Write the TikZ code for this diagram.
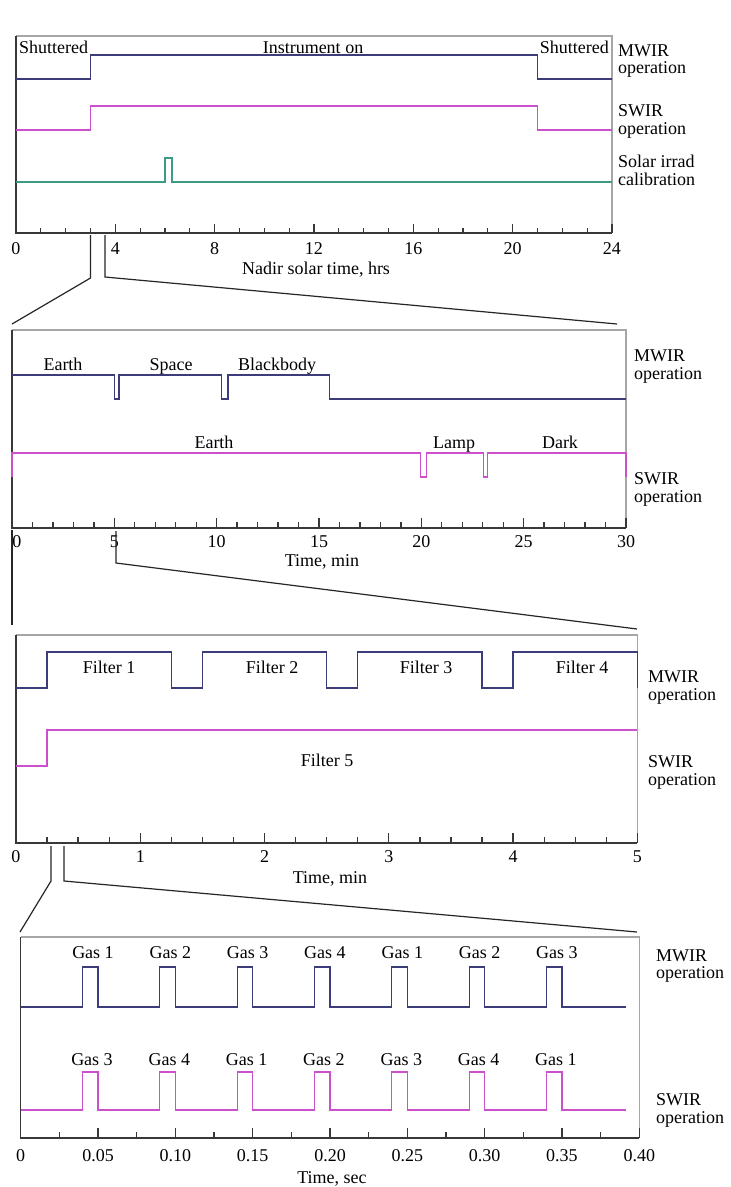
\documentclass[tikz,border=0pt]{standalone}
\usepackage{fontspec}
\setmainfont{Liberation Serif}
\definecolor{mwcol}{HTML}{3C3C7A}
\definecolor{swcol}{HTML}{CC4FCC}
\definecolor{solcol}{HTML}{3F9A85}
\definecolor{framegray}{HTML}{A6A6A6}
\definecolor{axcol}{HTML}{383838}
\tikzset{
  lab/.style={font=\fontsize{18}{18}\selectfont, inner sep=0pt, anchor=base},
  rlab/.style={lab, anchor=base west},
  mw/.style={draw=mwcol, line width=1.2pt},
  sw/.style={draw=swcol, line width=1.2pt},
  sol/.style={draw=solcol, line width=1.2pt},
  topframe/.style={draw=framegray, line width=1.3pt},
  axisline/.style={draw=axcol, line width=1.3pt},
  zoomline/.style={draw=black!85, line width=1.2pt}
}
\begin{document}
\begin{tikzpicture}[x=1pt,y=-1pt]
\useasboundingbox (0,0) rectangle (731,1187);
\fill[white] (0,0) rectangle (731,1187);

% ================= Panel 1 =================
\draw[topframe] (16,36) -- (612,36) -- (612,233);
\draw[axisline] (16,36) -- (16,233) -- (612,233);
\foreach \k in {1,...,23} \draw[axisline] ({16+24.833*\k},233) -- ++(0,-5);
\foreach \k in {4,8,...,24} \draw[axisline] ({16+24.833*\k},233) -- ++(0,-9);
\foreach \k in {0,4,...,24} \node[lab] (ta\k) at ({16+24.833*\k},254) {\k};
\node[lab] (xa) at (316,274) {Nadir solar time, hrs};

\draw[mw] (16,79) -- (90.5,79) -- (90.5,55) -- (537.5,55) -- (537.5,79) -- (612,79);
\draw[sw] (16,130) -- (90.5,130) -- (90.5,106) -- (537.5,106) -- (537.5,130) -- (612,130);
\draw[sol] (16,182) -- (165,182) -- (165,158) -- (172,158) -- (172,182) -- (612,182);

\node[lab, anchor=base west] (sh1) at (19,53) {Shuttered};
\node[lab] (ion) at (313,53) {Instrument on};
\node[lab, anchor=base east] (sh2) at (609,53) {Shuttered};
\node[rlab] (a1) at (618,56) {MWIR};
\node[rlab] (a2) at (618,73) {operation};
\node[rlab] (a3) at (618,116) {SWIR};
\node[rlab] (a4) at (618,134) {operation};
\node[rlab] (a5) at (618,167) {Solar irrad};
\node[rlab] (a6) at (618,185) {calibration};

% zoom lines 1 -> 2
\coordinate (z1a) at (90.5,235);
\coordinate (z1b) at (90.5,278);
\coordinate (z1c) at (12,324);
\coordinate (z1d) at (105,235);
\coordinate (z1e) at (105,277);
\coordinate (z1f) at (617,324);
\draw[zoomline] (z1a) -- (z1b) -- (z1c);
\draw[zoomline] (z1d) -- (z1e) -- (z1f);

% ================= Panel 2 =================
\draw[topframe] (12,330) -- (626,330) -- (626,528);
\draw[axisline] (12,330) -- (12,528) -- (626,528);
\foreach \k in {1,...,29} \draw[axisline] ({12+20.467*\k},528) -- ++(0,-6);
\foreach \k in {5,10,...,30} \draw[axisline] ({12+20.467*\k},528) -- ++(0,-10);
\node[lab] (tb0) at (17,547) {0};
\foreach \k in {5,10,...,30} \node[lab] (tb\k) at ({12+20.467*\k},547) {\k};
\node[lab] (xb) at (322,566) {Time, min};

\draw[mw] (12,375) -- (114.3,375) -- (114.3,399) -- (119,399) -- (119,375)
  -- (221.7,375) -- (221.7,399) -- (228,399) -- (228,375)
  -- (329.3,375) -- (329.3,399) -- (626,399);
\draw[sw] (12,477) -- (12,453) -- (420.7,453) -- (420.7,477) -- (426.7,477) -- (426.7,453)
  -- (483.3,453) -- (483.3,477) -- (487.7,477) -- (487.7,453) -- (626,453) -- (626,477);

\node[lab] (e1) at (63,370) {Earth};
\node[lab] (sp) at (171,370) {Space};
\node[lab] (bb) at (277,370) {Blackbody};
\node[lab] (e2) at (214,448) {Earth};
\node[lab] (lp) at (454,448) {Lamp};
\node[lab] (dk) at (560,448) {Dark};
\node[rlab] (b1) at (634,361) {MWIR};
\node[rlab] (b2) at (634,379) {operation};
\node[rlab] (b3) at (634,484) {SWIR};
\node[rlab] (b4) at (634,502) {operation};

% zoom lines 2 -> 3
\coordinate (z2a) at (12,530);
\coordinate (z2b) at (12,625);
\coordinate (z2c) at (116,531);
\coordinate (z2d) at (116,563);
\coordinate (z2e) at (637,629);
\draw[zoomline] (z2a) -- (z2b);
\draw[zoomline] (z2c) -- (z2d) -- (z2e);

% ================= Panel 3 =================
\draw[topframe] (16,635) -- (637.3,635) -- (637.3,843);
\draw[axisline] (16,635) -- (16,843) -- (637.3,843);
\foreach \k in {1,...,19} \draw[axisline] ({16+31.068*\k},843) -- ++(0,-6);
\foreach \k in {4,8,...,20} \draw[axisline] ({16+31.068*\k},843) -- ++(0,-10);
\foreach \k in {0,...,5} \node[lab] (tc\k) at ({16+124.27*\k},862) {\k};
\node[lab] (xc) at (330,883) {Time, min};

\draw[mw] (16,688) -- (47,688) -- (47,652) -- (171.3,652) -- (171.3,688) -- (202.4,688) -- (202.4,652)
  -- (326.7,652) -- (326.7,688) -- (357.7,688) -- (357.7,652)
  -- (482,652) -- (482,688) -- (513,688) -- (513,652) -- (637.3,652) -- (637.3,688);
\draw[sw] (16,766) -- (47,766) -- (47,730) -- (637.3,730);

\node[lab] (f1) at (109,673) {Filter 1};
\node[lab] (f2) at (272,673) {Filter 2};
\node[lab] (f3) at (426,673) {Filter 3};
\node[lab] (f4) at (582,673) {Filter 4};
\node[lab] (f5) at (327,766) {Filter 5};
\node[rlab] (c1) at (648,682) {MWIR};
\node[rlab] (c2) at (648,700) {operation};
\node[rlab] (c3) at (648,767) {SWIR};
\node[rlab] (c4) at (648,785) {operation};

% zoom lines 3 -> 4
\coordinate (z3a) at (51,846);
\coordinate (z3b) at (51,881);
\coordinate (z3c) at (20,932);
\coordinate (z3d) at (64,846);
\coordinate (z3e) at (64,881);
\coordinate (z3f) at (637,932);
\draw[zoomline] (z3a) -- (z3b) -- (z3c);
\draw[zoomline] (z3d) -- (z3e) -- (z3f);

% ================= Panel 4 =================
\draw[topframe] (20.7,937) -- (639.3,937) -- (639.3,1138);
\draw[axisline] (20.7,937) -- (20.7,1138) -- (639.3,1138);
\foreach \k in {1,...,15} \draw[axisline] ({20.7+38.66*\k},1138) -- ++(0,-6);
\foreach \k in {2,4,...,16} \draw[axisline] ({20.7+38.66*\k},1138) -- ++(0,-10);
\foreach \l [count=\i from 0] in {0,0.05,0.10,0.15,0.20,0.25,0.30,0.35,0.40}
  \node[lab] (td\i) at ({20.7+77.325*\i},1161) {\l};
\node[lab] (xd) at (332,1183) {Time, sec};

\draw[mw] (20.7,1007) \foreach \k in {0,...,6} { -- ({82.56+77.325*\k},1007) -- ++(0,-40) -- ++(15.47,0) -- ++(0,40) } -- (625.7,1007);
\draw[sw] (20.7,1110) \foreach \k in {0,...,6} { -- ({82.56+77.325*\k},1110) -- ++(0,-38) -- ++(15.47,0) -- ++(0,38) } -- (625.7,1110);

\foreach \g [count=\i from 0] in {1,2,3,4,1,2,3}
  \node[lab] (gm\i) at ({93+77.325*\i},958) {Gas \g};
\foreach \g [count=\i from 0] in {3,4,1,2,3,4,1}
  \node[lab] (gs\i) at ({92+77.325*\i},1065) {Gas \g};
\node[rlab] (d1) at (656,961) {MWIR};
\node[rlab] (d2) at (656,978) {operation};
\node[rlab] (d3) at (656,1105) {SWIR};
\node[rlab] (d4) at (656,1123) {operation};
\end{tikzpicture}
\end{document}
